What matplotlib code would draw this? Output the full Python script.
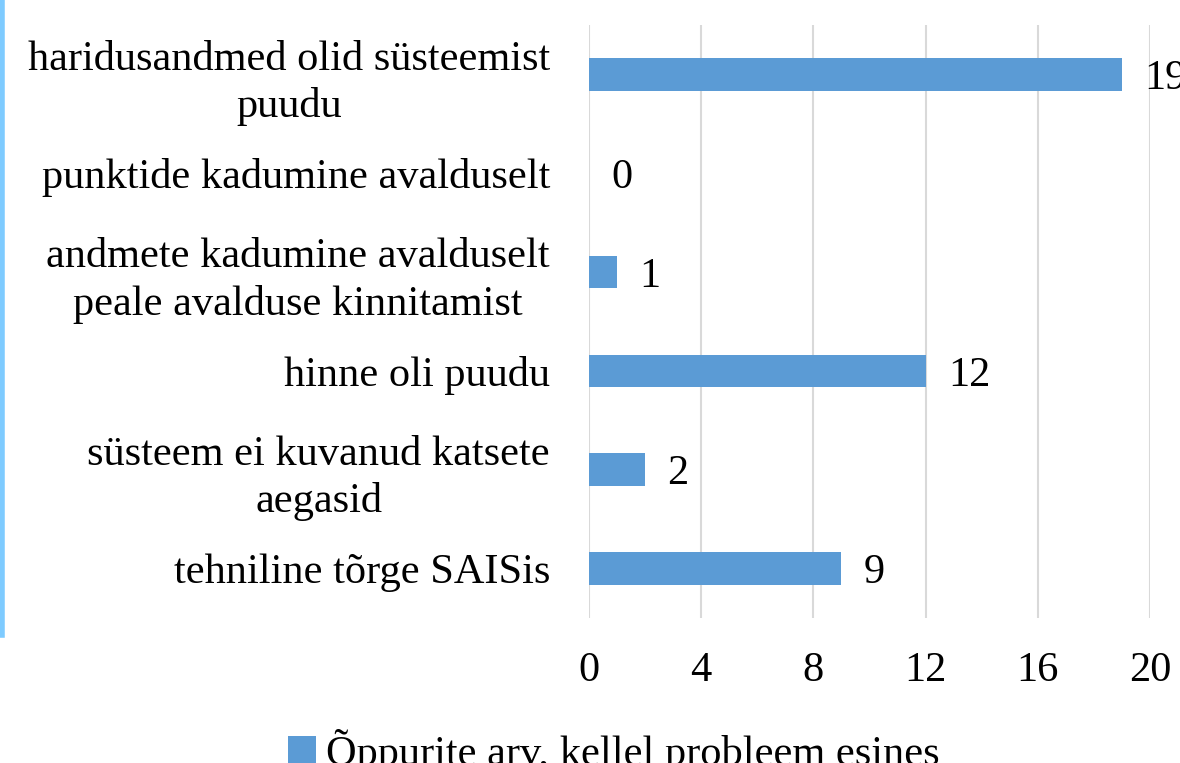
import matplotlib.pyplot as plt
from matplotlib.lines import Line2D

plt.rcParams["font.family"] = ["Liberation Serif", "DejaVu Serif"]

categories = [
    "haridusandmed olid süsteemist\npuudu",
    "punktide kadumine avalduselt",
    "andmete kadumine avalduselt\npeale avalduse kinnitamist",
    "hinne oli puudu",
    "süsteem ei kuvanud katsete\naegasid",
    "tehniline tõrge SAISis",
]
values = [19, 0, 1, 12, 2, 9]
series_name = "Õppurite arv, kellel probleem esines"
x_ticks = [0, 4, 8, 12, 16, 20]

bar_color = "#5b9bd5"
fs = 30.5

fig = plt.figure(figsize=(11.8, 7.63), dpi=100)
ax = fig.add_axes([589 / 1180, 1 - 618 / 763, (1150 - 589) / 1180, (618 - 25) / 763])

pos = list(range(len(categories)))[::-1]
ax.barh(pos, values, height=0.33, color=bar_color, linewidth=0,
        label=series_name, zorder=3)

for p, v in zip(pos, values):
    ax.text(v + 0.8, p, str(v), va="center_baseline", ha="left", fontsize=fs,
            clip_on=False)

ax.set_xlim(0, 20)
ax.set_ylim(-0.5, 5.5)
ax.set_xticks(x_ticks)
ax.set_xticklabels([str(t) for t in x_ticks], fontsize=fs)
ax.set_yticks(pos)
ax.set_yticklabels(categories, fontsize=fs, multialignment="center", linespacing=1.28)
ax.tick_params(axis="both", length=0)
ax.tick_params(axis="x", pad=24)
ax.tick_params(axis="y", pad=28)
ax.xaxis.grid(True, color="#d9d9d9", linewidth=1.5, zorder=0)
for s in ax.spines.values():
    s.set_visible(False)

ax.legend(loc="center", bbox_to_anchor=(614 / 1180, 1 - 752 / 763),
          bbox_transform=fig.transFigure, frameon=False, fontsize=fs,
          handlelength=0.65, handleheight=0.65, handletextpad=0.25)

# light blue edge line on the left
fig.add_artist(Line2D([0.002, 0.002], [1, 1 - 635 / 763], color="#7ecbff",
                      linewidth=4, transform=fig.transFigure))

fig.savefig("out.png", dpi=100)
